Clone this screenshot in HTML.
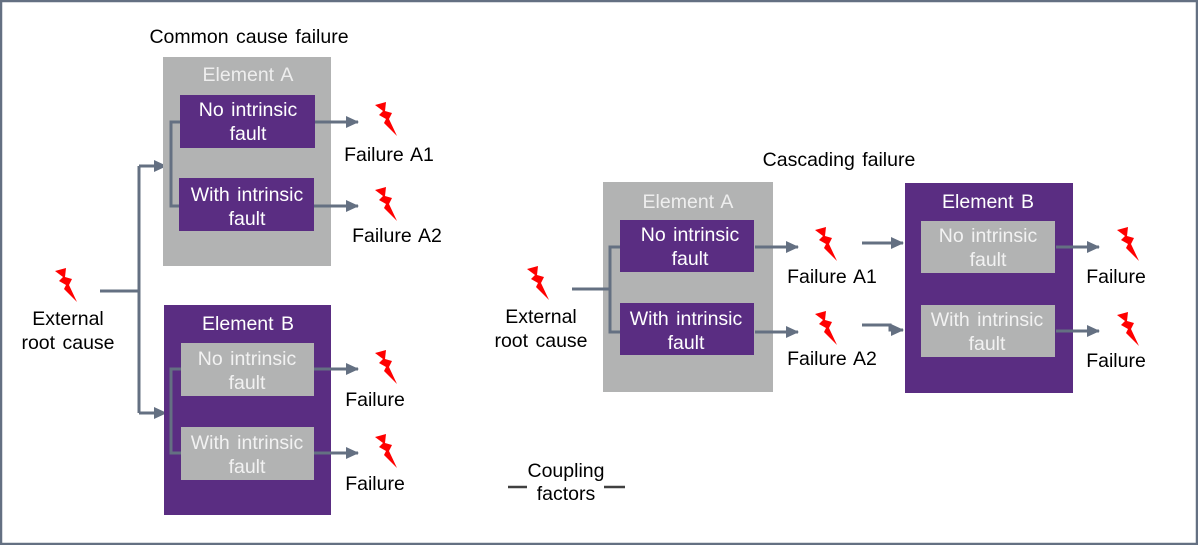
<!DOCTYPE html>
<html><head><meta charset="utf-8"><style>
html,body{margin:0;padding:0;background:#fff}
svg{display:block}
text{font-family:"Liberation Sans",sans-serif;font-size:19.5px;word-spacing:2px}
</style></head><body>
<svg width="1198" height="545" viewBox="0 0 1198 545" xmlns="http://www.w3.org/2000/svg">
<defs>
<marker id="ar" markerWidth="13" markerHeight="12" refX="12" refY="6" orient="auto" markerUnits="userSpaceOnUse"><path d="M0,0 L13,6 L0,12 z" fill="#647082"/></marker>
<g id="bolt"><path d="M0,3 L11,0 L10,9 L17,11 L14,17 L22,34 L9,21 L11,17 L4,13 L8,9 Z" fill="#ff0000"/></g>
</defs>
<rect x="1" y="1" width="1196" height="543" fill="#fff" stroke="#647082" stroke-width="2.5"/>
<g fill="none" stroke="#647082" stroke-width="3">
<line x1="100" y1="291" x2="139" y2="291"/>
<line x1="139" y1="166" x2="139" y2="413"/>
<line x1="139" y1="166" x2="166" y2="166" marker-end="url(#ar)"/>
<line x1="139" y1="413" x2="166" y2="413" marker-end="url(#ar)"/>
</g>
<rect x="163" y="57" width="168" height="209" fill="#b2b3b3"/>
<rect x="164" y="305" width="167" height="210" fill="#5a2d82"/>
<g fill="none" stroke="#647082" stroke-width="3">
<path d="M180,122 H171 V206 H180"/>
<path d="M181,369 H171 V453 H181"/>
<line x1="315" y1="122" x2="358" y2="122" marker-end="url(#ar)"/>
<line x1="314" y1="206" x2="358" y2="206" marker-end="url(#ar)"/>
<line x1="314" y1="369" x2="358" y2="369" marker-end="url(#ar)"/>
<line x1="314" y1="453" x2="358" y2="453" marker-end="url(#ar)"/>
</g>
<rect x="180" y="95" width="135" height="53" fill="#5a2d82"/>
<rect x="179" y="178" width="135" height="53" fill="#5a2d82"/>
<rect x="181" y="343" width="133" height="53" fill="#b2b3b3"/>
<rect x="181" y="427" width="133" height="53" fill="#b2b3b3"/>
<g text-anchor="middle" fill="#fff">
<text x="248" y="81" fill="#eee">Element A</text>
<text x="248" y="116">No intrinsic</text><text x="248" y="140">fault</text>
<text x="247" y="201">With intrinsic</text><text x="247" y="225">fault</text>
<text x="248" y="330">Element B</text>
<text x="247" y="365" fill="#f2f2f2">No intrinsic</text><text x="247" y="389" fill="#f2f2f2">fault</text>
<text x="247" y="449" fill="#f2f2f2">With intrinsic</text><text x="247" y="473" fill="#f2f2f2">fault</text>
</g>
<g text-anchor="middle" fill="#000">
<text x="249" y="43">Common cause failure</text>
<text x="389" y="161">Failure  A1</text>
<text x="397" y="242">Failure  A2</text>
<text x="375" y="406">Failure</text>
<text x="375" y="490">Failure</text>
<text x="68" y="325">External</text>
<text x="68" y="349">root cause</text>
</g>
<use href="#bolt" x="375" y="102"/>
<use href="#bolt" x="375" y="187"/>
<use href="#bolt" x="375" y="350"/>
<use href="#bolt" x="375" y="434"/>
<use href="#bolt" x="55" y="268"/>
<rect x="603" y="182" width="170" height="210" fill="#b2b3b3"/>
<rect x="905" y="183" width="168" height="210" fill="#5a2d82"/>
<g fill="none" stroke="#647082" stroke-width="3">
<line x1="572" y1="289" x2="610" y2="289"/>
<path d="M620,247 H610 V332 H620"/>
<line x1="755" y1="247" x2="798" y2="247" marker-end="url(#ar)"/>
<line x1="755" y1="332" x2="798" y2="332" marker-end="url(#ar)"/>
<line x1="862" y1="243" x2="903" y2="243" marker-end="url(#ar)"/>
<path d="M862,325 H890 V330 H903" marker-end="url(#ar)"/>
<line x1="1056" y1="247" x2="1099" y2="247" marker-end="url(#ar)"/>
<line x1="1056" y1="331" x2="1099" y2="331" marker-end="url(#ar)"/>
</g>
<rect x="620" y="220" width="134" height="52" fill="#5a2d82"/>
<rect x="620" y="303" width="134" height="52" fill="#5a2d82"/>
<rect x="921" y="221" width="134" height="52" fill="#b2b3b3"/>
<rect x="921" y="305" width="134" height="52" fill="#b2b3b3"/>
<g text-anchor="middle" fill="#fff">
<text x="688" y="208" fill="#eee">Element A</text>
<text x="690" y="241">No intrinsic</text><text x="690" y="265">fault</text>
<text x="686" y="325">With intrinsic</text><text x="686" y="349">fault</text>
<text x="988" y="208">Element B</text>
<text x="988" y="242" fill="#f2f2f2">No intrinsic</text><text x="988" y="266" fill="#f2f2f2">fault</text>
<text x="987" y="326" fill="#f2f2f2">With intrinsic</text><text x="987" y="350" fill="#f2f2f2">fault</text>
</g>
<g text-anchor="middle" fill="#000">
<text x="839" y="166">Cascading failure</text>
<text x="832" y="283">Failure  A1</text>
<text x="832" y="365">Failure  A2</text>
<text x="1116" y="283">Failure</text>
<text x="1116" y="367">Failure</text>
<text x="541" y="323">External</text>
<text x="541" y="347">root cause</text>
<text x="566" y="477">Coupling</text>
<text x="566" y="500">factors</text>
</g>
<g stroke="#404040" stroke-width="2.5"><line x1="508" y1="487" x2="527" y2="487"/><line x1="604" y1="487" x2="625" y2="487"/></g>
<use href="#bolt" x="815" y="227"/>
<use href="#bolt" x="815" y="311"/>
<use href="#bolt" x="1117" y="227"/>
<use href="#bolt" x="1117" y="312"/>
<use href="#bolt" x="527" y="266"/>
</svg>
</body></html>
